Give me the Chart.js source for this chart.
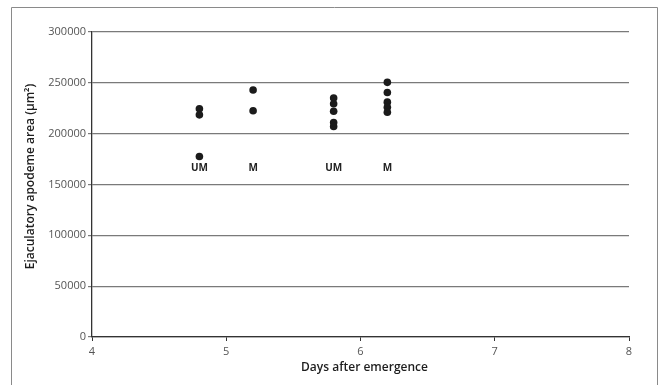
<!DOCTYPE html>
<html>
<head>
<meta charset="utf-8">
<script src="https://cdn.jsdelivr.net/npm/chart.js@4.4.1/dist/chart.umd.min.js"></script>
<style>
  html, body { margin: 0; padding: 0; background: #fff; }
  canvas { display: block; }
</style>
</head>
<body>
<canvas id="c" width="662" height="385"></canvas>
<script>
// Individual measurements: day after emergence and apodeme area
const sampleDays = [4.8, 4.8, 4.8, 5.2, 5.2, 5.8, 5.8, 5.8, 5.8, 5.8, 6.2, 6.2, 6.2, 6.2, 6.2];
const apodemeArea = [224500, 218500, 177500, 243000, 222500, 235000, 229500, 222000, 211000, 207000, 250500, 240500, 231000, 226000, 221000];

// Group captions (unmated / mated) under each column of points
const groupDays = [4.8, 5.2, 5.8, 6.2];
const groupLabels = ['UM', 'M', 'UM', 'M'];

// Axis ranges and titles
const xTicks = [4, 5, 6, 7, 8];
const yTicks = [0, 50000, 100000, 150000, 200000, 250000, 300000];
const xTitle = 'Days after emergence';
const yTitle = 'Ejaculatory apodeme area (μm²)';

const FONT = '"Open Sans", "Liberation Sans", sans-serif';
const TITLE_FONT = '600 12px ' + FONT;

// Outer frame around the figure (open at the bottom)
const framePlugin = {
  id: 'frame',
  afterDraw(chart) {
    const ctx = chart.ctx;
    ctx.save();
    ctx.strokeStyle = '#8a8a8a';
    ctx.lineWidth = 1;
    ctx.beginPath();
    ctx.moveTo(11.5, 385);
    ctx.lineTo(11.5, 7.5);
    ctx.lineTo(657.5, 7.5);
    ctx.lineTo(657.5, 385);
    ctx.stroke();
    ctx.restore();
  }
};

// Axis titles, placed relative to the chart area
const axisTitlePlugin = {
  id: 'axisTitles',
  afterDraw(chart) {
    const ctx = chart.ctx;
    const a = chart.chartArea;
    ctx.save();
    ctx.font = TITLE_FONT;
    ctx.fillStyle = '#1e1e1e';
    ctx.textAlign = 'center';
    ctx.textBaseline = 'middle';
    ctx.fillText(xTitle, (a.left + a.right) / 2 + 4, a.bottom + 31);
    ctx.translate(a.left - 61, (a.top + a.bottom) / 2 - 8);
    ctx.rotate(-Math.PI / 2);
    ctx.fillText(yTitle, 0, 0);
    ctx.restore();
  }
};

// Captions placed below each group of points
const groupLabelPlugin = {
  id: 'groupLabels',
  afterDatasetsDraw(chart) {
    const ctx = chart.ctx;
    const xs = chart.scales.x, ys = chart.scales.y;
    ctx.save();
    ctx.font = 'bold 10px ' + FONT;
    ctx.fillStyle = '#222';
    ctx.textAlign = 'center';
    ctx.textBaseline = 'middle';
    groupDays.forEach((d, i) => {
      ctx.fillText(groupLabels[i], xs.getPixelForValue(d), ys.getPixelForValue(166000));
    });
    ctx.restore();
  }
};

new Chart(document.getElementById('c'), {
  type: 'scatter',
  data: {
    datasets: [{
      data: sampleDays.map((d, i) => ({ x: d, y: apodemeArea[i] })),
      backgroundColor: '#1b1b1b',
      borderColor: '#1b1b1b',
      borderWidth: 0,
      pointRadius: 3.8,
      pointHoverRadius: 3.8
    }]
  },
  options: {
    responsive: false,
    animation: false,
    devicePixelRatio: 1,
    layout: { padding: { left: 0, top: 32, right: 33, bottom: 0 } },
    plugins: { legend: { display: false }, tooltip: { enabled: false } },
    scales: {
      x: {
        type: 'linear',
        min: 4, max: 8,
        afterFit(scale) { scale.height = 48; },
        afterBuildTicks(scale) { scale.ticks = xTicks.map(v => ({ value: v })); },
        border: { display: true, color: '#333', width: 1.3 },
        grid: { drawOnChartArea: false, drawTicks: true, tickLength: 4, color: '#333', tickColor: '#333' },
        ticks: { font: { family: FONT, size: 11 }, color: '#555', padding: 4, maxRotation: 0 },
        title: { display: false }
      },
      y: {
        type: 'linear',
        min: 0, max: 300000,
        afterFit(scale) { scale.width = 92; },
        afterBuildTicks(scale) { scale.ticks = yTicks.map(v => ({ value: v })); },
        border: { display: true, color: '#333', width: 1.3 },
        grid: { drawOnChartArea: true, drawTicks: true, tickLength: 4, color: '#7a7a7a', tickColor: '#7a7a7a', lineWidth: 1.2 },
        ticks: { font: { family: FONT, size: 11 }, color: '#555', padding: 2, callback: v => String(v) },
        title: { display: false }
      }
    }
  },
  plugins: [framePlugin, axisTitlePlugin, groupLabelPlugin]
});
</script>
</body>
</html>
